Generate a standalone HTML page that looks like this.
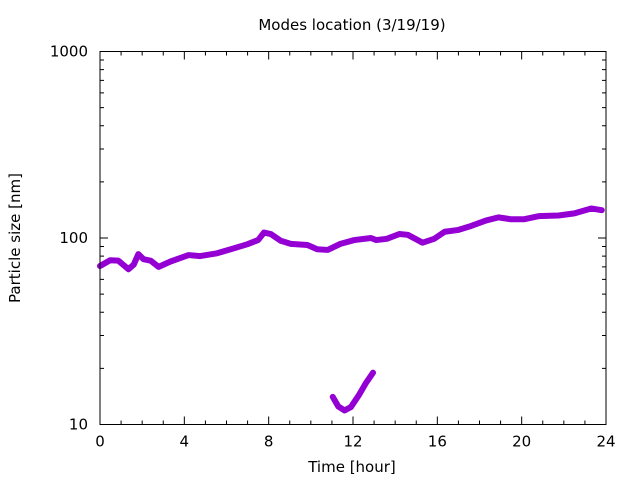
<!DOCTYPE html>
<html><head><meta charset="utf-8"><style>
html,body{margin:0;padding:0;background:#fff;}
svg text{font-family:"DejaVu Sans","Liberation Sans",sans-serif;font-size:15px;fill:#000;}
</style></head><body>
<svg id="chart" width="640" height="480" xmlns="http://www.w3.org/2000/svg">
<rect width="640" height="480" fill="#fff"/>
<text x="352" y="30" text-anchor="middle">Modes location (3/19/19)</text>
<text x="352" y="472" text-anchor="middle">Time [hour]</text>
<text transform="translate(20,238) rotate(-90)" text-anchor="middle">Particle size [nm]</text>
<g id="axes"></g>
<g id="series"></g>
<rect x="100" y="51.5" width="506" height="373" fill="none" stroke="#000" stroke-width="1"/>
</svg>
<script>
const xTicks=[0,4,8,12,16,20,24];
const yTicks=[10,100,1000];
const mainHours=[0,0.48,0.87,1.35,1.6,1.82,2.06,2.4,2.78,3.33,4.2,4.75,5.55,6.2,6.98,7.5,7.78,8.1,8.57,9.05,9.84,10.3,10.8,11.4,12.06,12.85,13.1,13.6,14.2,14.6,15.3,15.85,16.35,17,17.6,18.3,18.9,19.5,20.1,20.8,21.75,22.5,23.3,23.8];
const mainSize=[70.8,76,75.6,68,72,82,77,75.6,70,74.7,81,80,82.8,87,92.5,97.5,107,105,96.7,93,91.7,87,86.3,93,97.5,100,97.5,99,105,104,94.4,99,108,110.5,116,124,129,126,126,131,132,135.5,144,141];
const smallHours=[11.04,11.3,11.6,11.9,12.3,12.6,12.95];
const smallSize=[14.06,12.5,11.9,12.4,14.5,16.6,18.96];

const X0=100,X1=606,Y0=424.5,Y1=51.5;
const xs=h=>X0+(h/24)*(X1-X0);
const ys=v=>Y0-(Math.log10(v)-1)/2*(Y0-Y1);
const NS="http://www.w3.org/2000/svg";
const axes=document.getElementById('axes');
function mk(tag,attrs,parent){const e=document.createElementNS(NS,tag);for(const k in attrs)e.setAttribute(k,attrs[k]);parent.appendChild(e);return e;}
// x minor ticks every hour
for(let h=0;h<=24;h++){
  const len=(h%4===0)?8:4;
  const t=mk('path',{d:`M${xs(h)},${Y0}v${-len}M${xs(h)},${Y1}v${len}`,stroke:'#000','stroke-width':1},axes);
  
  
}
xTicks.forEach(h=>{
  const t=mk('text',{x:xs(h),y:Y0+22,'text-anchor':'middle'},axes);t.textContent=h;
  
  
});
for(let d=1;d<=2;d++){for(let m=1;m<=9;m++){
  const v=Math.pow(10,d)*m; const len=m===1?8:4;
  const t=mk('path',{d:`M${X0},${ys(v)}h${len}M${X1},${ys(v)}h${-len}`,stroke:'#000','stroke-width':1},axes);
  
  
}}
yTicks.forEach(v=>{
  const t=mk('text',{x:X0-12,y:ys(v)+5,'text-anchor':'end'},axes);t.textContent=v;
  
  
});
const ser=document.getElementById('series');
function line(hs,vs,name){
  const p=mk('polyline',{points:hs.map((h,i)=>xs(h)+','+ys(vs[i])).join(' '),fill:'none',stroke:'#9400d3','stroke-width':6,'stroke-linejoin':'round','stroke-linecap':'round'},ser);
  
  
}
line(mainHours,mainSize,'main-mode-series');
line(smallHours,smallSize,'small-mode-series');
</script>
</body></html>
